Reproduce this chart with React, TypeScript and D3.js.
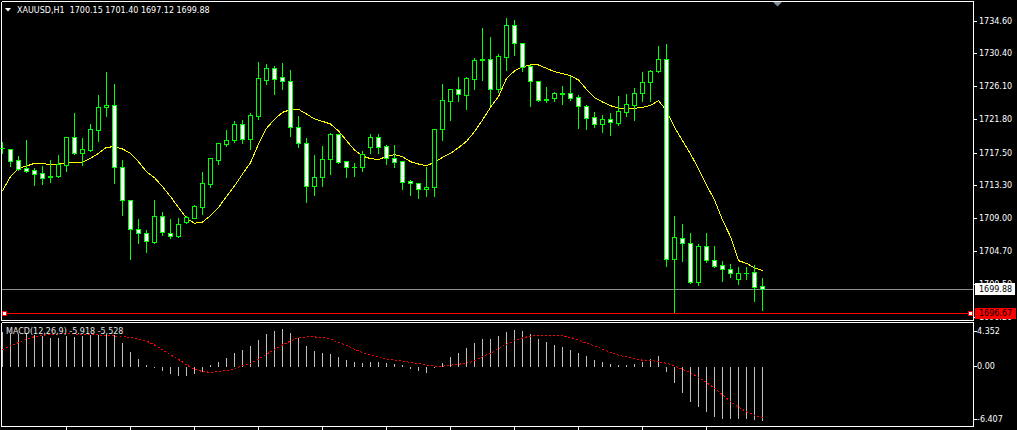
import React from 'react';
import * as d3 from 'd3';

// ---- Data (XAUUSD H1) ----
const opens = [
  1718.10, 1717.92, 1716.50, 1715.50, 1715.20, 1714.81, 1714.34, 1714.46, 1715.93, 1719.48,
  1717.49, 1717.88, 1720.47, 1723.37, 1723.63, 1715.59, 1711.31, 1707.55, 1707.03, 1705.95,
  1709.24, 1707.03, 1706.64, 1708.46, 1709.06, 1710.49, 1713.47, 1716.58, 1718.66, 1719.18,
  1721.16, 1719.31, 1722.29, 1726.95, 1728.42, 1727.26, 1726.74, 1720.77, 1718.70, 1713.12,
  1714.29, 1716.62, 1719.87, 1716.37, 1715.63, 1715.59, 1718.27, 1719.52, 1718.35, 1716.76,
  1716.37, 1713.77, 1713.51, 1712.74, 1713.00, 1720.52, 1724.23, 1725.70, 1725.01, 1727.08,
  1729.46, 1729.59, 1725.70, 1729.94, 1734.00, 1731.66, 1728.68, 1726.74, 1724.36, 1724.62,
  1725.14, 1725.18, 1724.66, 1723.54, 1722.07, 1721.16, 1721.86, 1721.38, 1722.81, 1723.71,
  1725.18, 1726.70, 1728.04, 1729.59, 1703.66, 1706.38, 1705.74, 1700.77, 1705.35, 1703.53,
  1702.88, 1702.36, 1701.15, 1701.85, 1701.98, 1700.15,
];
const highs = [
  1719.00, 1718.00, 1717.19, 1719.26, 1715.63, 1715.89, 1716.67, 1717.32, 1719.65, 1722.76,
  1719.52, 1721.34, 1725.10, 1728.08, 1726.52, 1716.67, 1711.35, 1709.02, 1707.59, 1711.48,
  1709.93, 1709.02, 1709.15, 1709.41, 1710.83, 1715.11, 1716.93, 1718.74, 1720.56, 1721.73,
  1721.86, 1722.76, 1729.37, 1729.12, 1728.86, 1729.25, 1728.29, 1722.33, 1719.52, 1717.32,
  1718.44, 1720.17, 1720.00, 1716.41, 1716.28, 1717.84, 1720.04, 1720.00, 1718.61, 1718.61,
  1716.41, 1714.03, 1713.64, 1715.76, 1720.64, 1726.52, 1725.74, 1727.43, 1727.43, 1729.89,
  1733.78, 1732.62, 1730.37, 1735.04, 1734.78, 1731.84, 1728.94, 1726.87, 1726.18, 1725.49,
  1726.26, 1727.56, 1725.10, 1723.80, 1722.89, 1722.50, 1722.76, 1724.97, 1725.23, 1726.00,
  1728.08, 1728.29, 1731.45, 1731.71, 1709.41, 1708.37, 1707.20, 1705.78, 1707.20, 1705.52,
  1703.57, 1703.19, 1702.75, 1702.84, 1703.01, 1701.40,
];
const lows = [
  1717.49, 1715.80, 1715.24, 1715.03, 1713.34, 1713.47, 1713.69, 1714.38, 1715.16, 1717.32,
  1715.93, 1717.71, 1719.05, 1722.29, 1713.60, 1709.45, 1703.75, 1705.82, 1704.65, 1705.74,
  1706.86, 1706.47, 1706.60, 1708.33, 1709.02, 1709.58, 1713.08, 1716.06, 1718.40, 1718.87,
  1718.79, 1718.01, 1721.86, 1726.39, 1725.14, 1725.74, 1719.69, 1718.27, 1711.14, 1712.04,
  1713.21, 1714.72, 1716.11, 1714.38, 1714.51, 1715.11, 1717.49, 1717.49, 1716.02, 1715.68,
  1712.82, 1712.00, 1711.66, 1711.87, 1711.87, 1719.13, 1721.73, 1724.19, 1723.15, 1725.74,
  1726.91, 1723.63, 1725.40, 1728.21, 1730.20, 1728.12, 1723.58, 1724.23, 1724.06, 1724.23,
  1723.84, 1724.36, 1720.73, 1720.56, 1720.86, 1720.21, 1719.82, 1721.12, 1722.29, 1721.77,
  1724.19, 1724.19, 1727.99, 1702.84, 1696.70, 1703.49, 1700.55, 1700.33, 1703.27, 1702.71,
  1700.89, 1701.33, 1700.46, 1701.11, 1698.30, 1697.12,
];
const closes = [
  1718.05, 1716.45, 1715.42, 1715.16, 1714.77, 1714.25, 1714.42, 1716.02, 1719.52, 1717.49,
  1717.92, 1720.52, 1723.37, 1723.63, 1715.59, 1711.31, 1707.55, 1707.03, 1705.99, 1709.24,
  1707.16, 1706.64, 1708.20, 1709.11, 1710.53, 1713.51, 1716.76, 1718.70, 1719.09, 1721.16,
  1719.31, 1722.33, 1727.13, 1728.42, 1727.08, 1726.74, 1720.77, 1718.70, 1713.12, 1714.29,
  1716.62, 1719.87, 1716.32, 1715.59, 1715.59, 1717.27, 1719.48, 1718.27, 1716.76, 1716.32,
  1713.73, 1713.51, 1712.74, 1713.00, 1720.56, 1724.28, 1725.70, 1725.05, 1727.17, 1729.46,
  1729.59, 1725.70, 1730.02, 1734.00, 1731.66, 1728.64, 1726.74, 1724.36, 1724.40, 1725.18,
  1725.18, 1724.62, 1723.50, 1722.03, 1721.16, 1721.86, 1721.42, 1722.89, 1723.76, 1725.23,
  1726.65, 1728.08, 1729.59, 1703.66, 1706.51, 1705.74, 1700.77, 1705.35, 1703.53, 1702.84,
  1702.36, 1701.85, 1701.85, 1701.89, 1700.03, 1699.88,
];
const maValues = [
  1712.56, 1714.38, 1715.46, 1715.76, 1716.11, 1716.11, 1715.89, 1716.02, 1716.19, 1716.24,
  1716.24, 1716.76, 1717.40, 1718.18, 1718.27, 1717.97, 1717.40, 1716.32, 1715.03, 1714.25,
  1713.08, 1711.79, 1710.40, 1708.98, 1708.33, 1708.50, 1709.32, 1710.40, 1711.79, 1713.17,
  1714.72, 1716.19, 1718.61, 1720.64, 1721.81, 1722.72, 1723.06, 1723.11, 1722.50, 1721.86,
  1721.55, 1721.21, 1720.30, 1719.05, 1717.84, 1717.06, 1716.71, 1716.62, 1716.97, 1717.23,
  1716.97, 1716.32, 1716.02, 1715.80, 1716.24, 1716.89, 1717.40, 1718.14, 1718.96, 1720.21,
  1721.73, 1723.37, 1724.75, 1727.13, 1728.08, 1728.64, 1728.86, 1728.86, 1728.42, 1727.99,
  1727.73, 1727.47, 1726.91, 1725.70, 1724.62, 1724.06, 1723.58, 1723.28, 1723.11, 1723.24,
  1723.37, 1723.63, 1724.23, 1722.94, 1720.77, 1719.05, 1717.32, 1715.42, 1713.30, 1711.35,
  1708.76, 1706.60, 1703.49, 1703.14, 1702.58, 1702.19,
];
const macdHist = [
  3.53, 3.43, 3.36, 3.43, 3.25, 3.14, 2.90, 2.90, 3.14, 3.07,
  3.14, 3.25, 3.25, 3.36, 3.25, 2.37, 1.41, 0.67, 0.03, -0.21,
  -0.53, -0.92, -1.06, -1.06, -0.92, -0.64, 0.10, 0.39, 0.81, 1.34,
  1.66, 2.12, 2.72, 3.32, 3.67, 3.85, 3.43, 2.90, 2.08, 1.55,
  1.31, 1.24, 0.88, 0.60, 0.39, 0.28, 0.39, 0.39, 0.28, 0.21,
  0.07, -0.35, -0.57, -0.78, -0.21, 0.28, 0.92, 1.34, 1.87, 2.40,
  2.83, 2.83, 3.14, 3.57, 3.78, 3.67, 3.36, 2.83, 2.51, 2.19,
  1.98, 1.66, 1.34, 1.02, 0.60, 0.39, 0.21, 0.07, 0.07, 0.21,
  0.39, 0.71, 1.02, -0.64, -1.80, -2.86, -3.92, -4.45, -4.88, -5.51,
  -5.69, -5.72, -5.72, -5.72, -5.83, -5.918,
];
const macdSignal = [
  1.66, 2.12, 2.44, 2.79, 3.07, 3.22, 3.32, 3.36, 3.36, 3.36,
  3.32, 3.29, 3.25, 3.22, 3.14, 3.07, 3.00, 2.83, 2.61, 2.19,
  1.66, 1.13, 0.67, 0.07, -0.39, -0.64, -0.71, -0.64, -0.53, -0.32,
  -0.04, 0.25, 0.67, 1.20, 1.73, 2.19, 2.61, 2.97, 3.04, 3.04,
  3.00, 2.86, 2.44, 2.16, 1.73, 1.38, 1.13, 0.95, 0.71, 0.57,
  0.46, 0.35, 0.21, 0.07, -0.07, -0.07, 0.04, 0.14, 0.25, 0.49,
  0.95, 1.31, 1.80, 2.26, 2.65, 2.93, 3.14, 3.22, 3.22, 3.22,
  3.14, 3.00, 2.72, 2.37, 2.12, 1.73, 1.38, 1.10, 0.92, 0.74,
  0.57, 0.53, 0.42, 0.25, -0.04, -0.39, -0.74, -1.27, -1.80, -2.40,
  -3.11, -3.82, -4.42, -4.91, -5.27, -5.528,
];
const priceTicks = [1734.6, 1730.4, 1726.1, 1721.8, 1717.5, 1713.3, 1709.0, 1704.7, 1700.5, 1696.2];
const macdTicks = [4.352, 0.0, -6.407];
const macdTickLabels = ['4.352', '0.00', '-6.407'];
const bidPrice = 1699.88;
const levelPrice = 1696.67;
const headerText = 'XAUUSD,H1  1700.15 1701.40 1697.12 1699.88';
const macdTitle = 'MACD(12,26,9) -5.918 -5.528';

export default function App() {
  const W = 1017;
  const H = 430;
  const right = 973;
  const n = closes.length;
  const x = d3.scaleLinear().domain([0, n - 1]).range([2.5, 2.5 + 8 * (n - 1)]);
  const y = d3.scaleLinear().domain([1696.2, 1734.6]).range([316.9, 20.7]);
  const ym = d3.scaleLinear().domain([-6.407, 4.352]).range([425.9, 324.6]);
  const snap = (v: number) => Math.round(v) + 0.5;
  const font = "'DejaVu Sans', sans-serif";

  const maLine = d3.line<number>().x((_, i) => x(i)).y((d) => y(d))(maValues) || '';
  const sigLine = d3.line<number>().x((_, i) => x(i)).y((d) => ym(d))(macdSignal) || '';

  const zeroY = snap(ym(0));
  const bidY = snap(y(bidPrice));
  const lvlY = snap(y(levelPrice));

  const timeTicks = d3.range(8, n, 8);

  const macdLabelY = (v: number, i: number) => {
    if (i === 0) return ym(v) + 6;
    if (i === macdTicks.length - 1) return ym(v) - 7;
    return ym(v);
  };

  return (
    <svg width={W} height={H} style={{ position: 'absolute', left: 0, top: 0, display: 'block' }}>
      <rect x={0} y={0} width={W} height={H} fill="#000" />

      {/* frames */}
      <g stroke="#fff" strokeWidth={1} shapeRendering="crispEdges" fill="none">
        <line x1={1.5} y1={1.5} x2={right + 0.5} y2={1.5} />
        <line x1={1.5} y1={1.5} x2={1.5} y2={320.5} />
        <line x1={right + 0.5} y1={1.5} x2={right + 0.5} y2={320.5} />
        <line x1={1.5} y1={320.5} x2={right + 0.5} y2={320.5} />
        <line x1={1.5} y1={322.5} x2={right + 0.5} y2={322.5} />
        <line x1={1.5} y1={322.5} x2={1.5} y2={426.5} />
        <line x1={right + 0.5} y1={322.5} x2={right + 0.5} y2={426.5} />
        <line x1={1.5} y1={426.5} x2={right + 0.5} y2={426.5} />
        {timeTicks.map((t) => (
          <line key={t} x1={Math.floor(x(t)) + 0.5} y1={426.5} x2={Math.floor(x(t)) + 0.5} y2={431} />
        ))}
      </g>

      {/* chart shift marker */}
      <polygon points="773,2 782,2 777.5,6.5" fill="#7f8c99" />

      {/* bid line */}
      <line x1={2} y1={bidY} x2={right} y2={bidY} stroke="#8c8c8c" strokeWidth={1} shapeRendering="crispEdges" />

      {/* MA line */}
      <path d={maLine} fill="none" stroke="#ffff00" strokeWidth={1} shapeRendering="crispEdges" />

      {/* candles */}
      <g shapeRendering="crispEdges">
        {closes.map((c, i) => {
          const o = opens[i];
          const cx = Math.floor(x(i)) + 0.5;
          const top = snap(y(Math.max(o, c)));
          const bot = snap(y(Math.min(o, c)));
          const bull = c >= o;
          return (
            <g key={i}>
              <line x1={cx} x2={cx} y1={snap(y(highs[i]))} y2={snap(y(lows[i]))} stroke="#00ff00" />
              {bot - top < 1 ? (
                <line x1={cx - 2.5} x2={cx + 2.5} y1={top} y2={top} stroke="#00ff00" />
              ) : (
                <rect x={cx - 2} y={top} width={4} height={bot - top} fill={bull ? '#000' : '#fff'} stroke="#00ff00" />
              )}
            </g>
          );
        })}
      </g>

      {/* level line with end markers */}
      <line x1={7} y1={lvlY} x2={968} y2={lvlY} stroke="#ff0000" strokeWidth={1} shapeRendering="crispEdges" />
      <rect x={2.5} y={lvlY - 2} width={4} height={4} fill="#fff" stroke="#ff0000" shapeRendering="crispEdges" />
      <rect x={968.5} y={lvlY - 2} width={4} height={4} fill="#fff" stroke="#ff0000" shapeRendering="crispEdges" />

      {/* price axis */}
      <g fontFamily={font} fontSize={8} fill="#fff">
        {priceTicks.map((p) => (
          <g key={p}>
            <line x1={974} x2={977} y1={snap(y(p))} y2={snap(y(p))} stroke="#fff" shapeRendering="crispEdges" />
            <text x={979} y={y(p) + 3}>{p.toFixed(2)}</text>
          </g>
        ))}
      </g>

      {/* bid label */}
      <rect x={975} y={283} width={40} height={12} fill="#fff" />
      <text x={979} y={y(bidPrice) + 3} fontFamily={font} fontSize={8} fill="#000">{bidPrice.toFixed(2)}</text>
      {/* level label */}
      <rect x={975} y={308} width={41} height={11} fill="#ff0000" />
      <text x={979} y={y(levelPrice) + 3} fontFamily={font} fontSize={8} fill="#000">{levelPrice.toFixed(2)}</text>

      {/* header */}
      <polygon points="5,8 11,8 8,11.5" fill="#fff" />
      <text x={17} y={12.5} fontFamily={font} fontSize={8} fill="#fff" style={{ whiteSpace: 'pre' }}>{headerText}</text>

      {/* MACD histogram */}
      <g stroke="#c0c0c0" strokeWidth={1} shapeRendering="crispEdges">
        {macdHist.map((v, i) => {
          const cx = Math.floor(x(i)) + 0.5;
          const vy = Math.round(ym(v));
          return <line key={i} x1={cx} x2={cx} y1={zeroY} y2={vy} />;
        })}
      </g>
      <path d={sigLine} fill="none" stroke="#ff0000" strokeWidth={1} strokeDasharray="2 2" shapeRendering="crispEdges" />

      {/* MACD axis */}
      <g fontFamily={font} fontSize={8} fill="#fff">
        {macdTicks.map((v, i) => (
          <g key={v}>
            <line x1={974} x2={977} y1={snap(macdLabelY(v, i))} y2={snap(macdLabelY(v, i))} stroke="#fff" shapeRendering="crispEdges" />
            <text x={977} y={macdLabelY(v, i) + 3}>{macdTickLabels[i]}</text>
          </g>
        ))}
      </g>
      <text x={6} y={334} fontFamily={font} fontSize={8} fill="#e6e6e6">{macdTitle}</text>
    </svg>
  );
}
